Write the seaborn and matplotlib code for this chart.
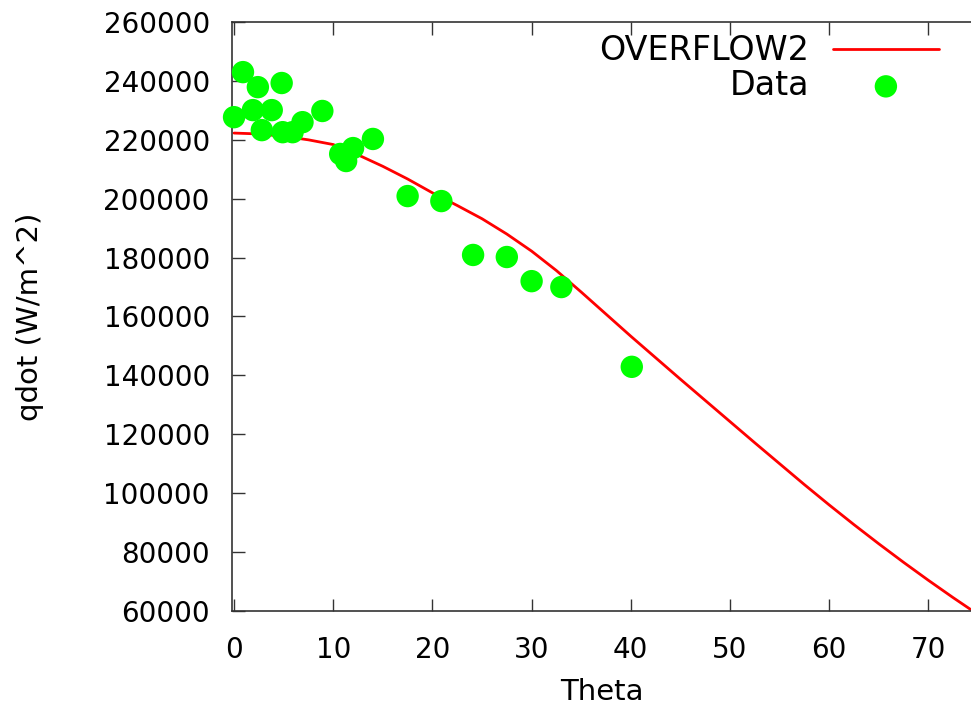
import matplotlib
matplotlib.use("Agg")
import matplotlib.pyplot as plt
import seaborn as sns
import pandas as pd

# OVERFLOW2 curve
theta_cfd = [0, 2.5, 5, 7.5, 10, 12.5, 15, 17.5, 20, 22.5, 25, 27.5, 30, 32.5,
             35, 37.5, 40, 42.5, 45, 47.5, 50, 52.5, 55, 57.5, 60, 62.5, 65,
             67.5, 70, 72.5, 75]
qdot_cfd = [222300, 222000, 221200, 220000, 218400, 214900, 211000, 206700,
            202000, 197700, 193200, 188000, 182200, 175600, 168300, 160800,
            153300, 146000, 138700, 131500, 124300, 117100, 110000, 102900,
            96000, 89300, 82800, 76500, 70400, 64500, 58800]

# experimental data points
theta_data = [0, 0.9, 1.9, 2.4, 2.8, 3.8, 4.8, 4.9, 5.9, 6.9, 8.9, 10.7, 11.3,
              12.0, 14.0, 17.5, 20.9, 24.1, 27.5, 30.0, 33.0, 40.1]
qdot_data = [227700, 243000, 230100, 237900, 223300, 230100, 239300, 222600,
             222600, 226000, 229800, 215200, 212800, 217200, 220300, 200900,
             199200, 180900, 180200, 172000, 170000, 142900]

yticks = list(range(60000, 260001, 20000))
xticks = list(range(0, 71, 10))

cfd = pd.DataFrame({"Theta": theta_cfd, "qdot": qdot_cfd})
exp = pd.DataFrame({"Theta": theta_data, "qdot": qdot_data})

sns.set_style("ticks")
plt.rcParams["font.family"] = ["DejaVu Sans"]
plt.rcParams["font.size"] = 20
plt.rcParams["text.color"] = "black"
plt.rcParams["axes.labelcolor"] = "black"
plt.rcParams["xtick.labelcolor"] = "black"
plt.rcParams["ytick.labelcolor"] = "black"

fig = plt.figure(figsize=(9.71, 7.12), dpi=100)
ax = fig.add_axes([0.239, 0.142, 0.761, 0.827])

sns.lineplot(data=cfd, x="Theta", y="qdot", ax=ax, color="#ff0000",
             linewidth=2.0, label="OVERFLOW2")
sns.scatterplot(data=exp, x="Theta", y="qdot", ax=ax, color="#00ff00",
                s=260, edgecolor="none", label="Data", clip_on=False, zorder=3)

ax.set_xlim(-0.2, 74.3)
ax.set_ylim(60000, 260000)
ax.set_xticks(xticks)
ax.set_yticks(yticks)
ax.set_xlabel("Theta", fontsize=21, labelpad=10)
ax.set_ylabel("qdot (W/m^2)", fontsize=21)
ax.yaxis.set_label_coords(-0.254, 0.5)

ax.tick_params(direction="in", length=9, width=1, color="#333333",
               top=True, right=False, pad=16)
ax.tick_params(axis="x", pad=18)
for side in ["left", "bottom", "top"]:
    ax.spines[side].set_color("#333333")
    ax.spines[side].set_linewidth(1.2)
ax.spines["right"].set_visible(False)

ax.legend(loc="upper right", bbox_to_anchor=(0.957, 0.979), frameon=False,
          markerfirst=False, fontsize=24, handlelength=3.2, borderaxespad=0,
          borderpad=0, labelspacing=0.05, handletextpad=0.7)

fig.savefig("out.png", dpi=100)
